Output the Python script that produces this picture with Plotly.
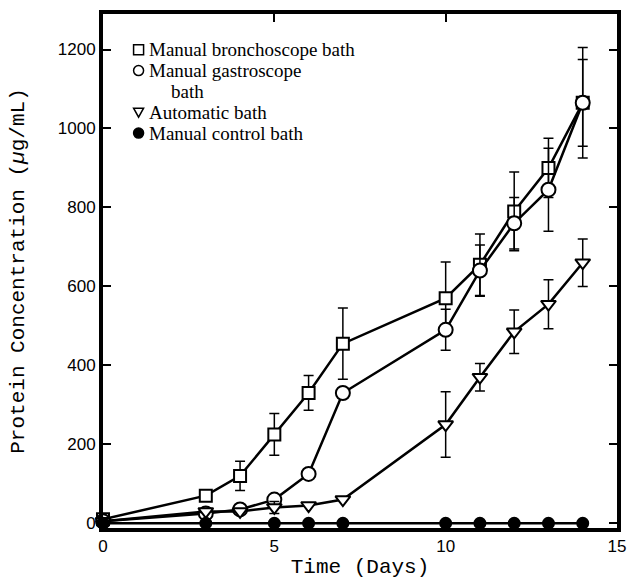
import plotly.graph_objects as go

# ---------------------------
# Data
# ---------------------------
days = [0, 3, 4, 5, 6, 7, 10, 11, 12, 13, 14]
bronchoscope = [10, 70, 120, 225, 330, 455, 570, 655, 790, 900, 1065]
bronchoscope_err = [0, 0, 37, 53, 44, 90, 92, 78, 100, 75, 140]
gastroscope = [5, 25, 35, 60, 125, 330, 490, 640, 760, 845, 1065]
gastroscope_err = [0, 0, 0, 0, 0, 0, 52, 65, 65, 105, 110]
automatic = [5, 30, 30, 40, 45, 60, 250, 370, 485, 555, 660]
automatic_err = [0, 0, 0, 15, 0, 0, 83, 35, 55, 62, 60]
control_days = [0, 3, 5, 6, 7, 10, 11, 12, 13, 14]
control = [0, 0, 0, 0, 0, 0, 0, 0, 0, 0]

x_ticks = [0, 5, 10, 15]
y_ticks = [0, 200, 400, 600, 800, 1000, 1200]

legend_labels = ["Manual bronchoscope bath", "Manual gastroscope", "bath",
                 "Automatic bath", "Manual control bath"]

W, H = 636, 588
M = dict(l=103, r=13, t=10, b=60)
PW = W - M["l"] - M["r"]
PH = H - M["t"] - M["b"]

series = [
    (days, bronchoscope, bronchoscope_err, "square", 12),
    (days, gastroscope, gastroscope_err, "circle", 14),
    (days, automatic, automatic_err, "triangle-down", 13),
    (control_days, control, None, "circle", 11),
]

fig = go.Figure()
for i, (xs, ys, err, sym, size) in enumerate(series):
    filled = i == 3
    fig.add_trace(go.Scatter(
        x=xs, y=ys, mode="lines+markers", showlegend=False, cliponaxis=False,
        line=dict(color="black", width=2.5),
        marker=dict(symbol=sym, size=size, color="black" if filled else "white",
                    line=dict(color="black", width=2)),
        error_y=dict(type="data", array=err, visible=err is not None,
                     color="black", thickness=1.5, width=5),
    ))

axis_common = dict(
    showline=True, linecolor="black", linewidth=4, mirror="ticks",
    ticks="inside", ticklen=8, tickwidth=1.5, tickcolor="black",
    showgrid=False, zeroline=False,
    tickfont=dict(family="Liberation Sans", size=17, color="black"),
)
title_font = dict(family="Liberation Mono", size=21, color="black")

fig.update_xaxes(range=[0, 15], tickvals=x_ticks,
                 title=dict(text="Time (Days)", standoff=4, font=title_font),
                 **axis_common)
fig.update_yaxes(range=[-12, 1290], tickvals=y_ticks,
                 title=dict(text="Protein Concentration (<i>µ</i>g/mL)", standoff=28,
                            font=title_font),
                 **axis_common)

# ---------------------------
# Key (drawn by hand so the rows sit as tight as in the original)
# ---------------------------
row_h = 21
key_top = 36          # px from top of plot area to first row centre
sym_x = 36 / PW       # symbol centre
txt_x = 45 / PW       # text start
rows = [0, 1, 2, 3, 4]
indent = [0, 0, 22, 0, 0]
for r, label, ind in zip(rows, legend_labels, indent):
    yp = 1 - (key_top + r * row_h) / PH
    fig.add_annotation(x=txt_x + ind / PW, y=yp, xref="paper", yref="paper",
                       text=label, showarrow=False, xanchor="left", yanchor="middle",
                       font=dict(family="Liberation Serif", size=19, color="black"))

def key_shape(row, kind, path=None, fill="white"):
    yp = 1 - (key_top + row * row_h) / PH
    d = dict(xref="paper", yref="paper", xsizemode="pixel", ysizemode="pixel",
             xanchor=sym_x, yanchor=yp, line=dict(color="black", width=1.5),
             fillcolor=fill, type=kind)
    if path:
        d["path"] = path
    else:
        d.update(x0=-5, x1=5, y0=-5, y1=5)
    fig.add_shape(**d)

key_shape(0, "rect")
key_shape(1, "circle")
key_shape(3, "path", path="M-5,4 L5,4 L0,-5 Z")
key_shape(4, "circle", fill="black")

fig.update_layout(
    width=W, height=H, margin=M,
    paper_bgcolor="white", plot_bgcolor="white",
    showlegend=False,
)

# drop the browser's default page margin so the figure fills the window exactly
fig.write_html("out.html", config={"displayModeBar": False},
               post_script="document.body.style.margin='0';document.body.style.overflow='hidden';")
